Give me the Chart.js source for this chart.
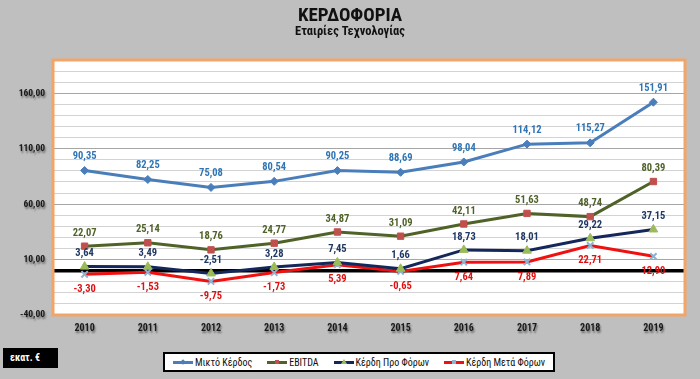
<!DOCTYPE html>
<html>
<head>
<meta charset="utf-8">
<script src="https://cdn.jsdelivr.net/npm/chart.js@4.4.1/dist/chart.umd.min.js"></script>
<style>
  html,body{margin:0;padding:0;background:#BFBFBF;}
  #wrap{position:relative;width:700px;height:379px;overflow:hidden;background:#BFBFBF;
        font-family:"Liberation Sans Narrow","Roboto Condensed",Roboto,"DejaVu Sans Condensed",sans-serif;}
  canvas{position:absolute;left:0;top:0;}
  #title{position:absolute;left:0;width:700px;top:3px;text-align:center;font-weight:bold;font-size:19px;color:#111;}
  #subtitle{position:absolute;left:0;width:700px;top:23px;text-align:center;font-weight:bold;font-size:12.5px;color:#111;}
  #unit{position:absolute;left:3px;top:348px;width:55px;height:20px;background:#000;color:#fff;font-weight:bold;font-size:10px;line-height:20px;text-indent:7px;}
  #legend{position:absolute;left:163px;top:352px;width:388px;height:16px;background:#fff;border:2px solid #000;
          display:flex;align-items:center;justify-content:center;gap:15px;font-size:10px;color:#111;}
  .li{display:flex;align-items:center;white-space:nowrap;}
  .sw{position:relative;width:20px;height:3px;margin-right:2px;}
  .mk{position:absolute;left:50%;top:50%;}
</style>
</head>
<body>
<div id="wrap">
  <canvas id="c" width="700" height="379"></canvas>
  <div id="title">ΚΕΡΔΟΦΟΡΙΑ</div>
  <div id="subtitle">Εταιρίες Τεχνολογίας</div>
  <div id="unit">εκατ. €</div>
  <div id="legend"></div>
</div>
<script>
// ---- data ----
const categories = ['2010','2011','2012','2013','2014','2015','2016','2017','2018','2019'];
const seriesNames = ['Μικτό Κέρδος','EBITDA','Κέρδη Προ Φόρων','Κέρδη Μετά Φόρων'];
const grossProfit = [90.35, 82.25, 75.08, 80.54, 90.25, 88.69, 98.04, 114.12, 115.27, 151.91];
const ebitda      = [22.07, 25.14, 18.76, 24.77, 34.87, 31.09, 42.11, 51.63, 48.74, 80.39];
const preTax      = [3.64, 3.49, -2.51, 3.28, 7.45, 1.66, 18.73, 18.01, 29.22, 37.15];
const afterTax    = [-3.30, -1.53, -9.75, -1.73, 5.39, -0.65, 7.64, 7.89, 22.71, 12.90];
const yMin = -40, yMax = 190, yMinorStep = 10, yMajorStep = 50;

const fmt = v => v.toFixed(2).replace('.', ',');
const FONT = '"Liberation Sans Narrow","Roboto Condensed",Roboto,sans-serif';

const styles = [
  {line:'#4A7EBB', marker:'#4A7EBB', style:'rectRot', r:4, label:'#2E75B6', pos:'above', off:14},
  {line:'#4F6228', marker:'#C0504D', style:'rect', r:4.5, label:'#4F6228', pos:'above', off:13},
  {line:'#14275A', marker:'#9BBB59', style:'triangle', r:5, label:'#1F3864', pos:'above', off:13},
  {line:'#F01010', marker:'#8CB4D2', style:'crossRot', r:4.5, label:'#E01010', pos:'below', off:15}
];
const allData = [grossProfit, ebitda, preTax, afterTax];

const datasets = allData.map((d, i) => ({
  label: seriesNames[i],
  data: d,
  borderColor: styles[i].line,
  backgroundColor: styles[i].marker,
  pointBackgroundColor: styles[i].marker,
  pointBorderColor: styles[i].marker,
  pointBorderWidth: styles[i].style === 'crossRot' ? 2 : 1,
  pointStyle: styles[i].style,
  pointRadius: styles[i].r,
  borderWidth: 3,
  tension: 0,
  fill: false
}));

const bgPlugin = {
  id: 'bg',
  beforeDraw(chart) {
    const {ctx, chartArea: a} = chart;
    ctx.save();
    ctx.fillStyle = '#FFFFFF';
    ctx.fillRect(a.left, a.top, a.right - a.left, a.bottom - a.top);
    ctx.restore();
    ['x','y'].forEach(id => {
      const s = chart.scales[id];
      if (s && !s._shadowWrapped) {
        const orig = s.drawLabels.bind(s);
        s.drawLabels = function(area) {
          ctx.save();
          ctx.shadowColor = 'rgba(0,0,0,0.45)';
          ctx.shadowOffsetX = 1; ctx.shadowOffsetY = 2; ctx.shadowBlur = 2;
          orig(area);
          ctx.restore();
        };
        s._shadowWrapped = true;
      }
    });
  },
  afterDraw(chart) {
    const {ctx, chartArea: a} = chart;
    ctx.save();
    ctx.strokeStyle = '#F2A566';
    ctx.lineWidth = 3;
    ctx.strokeRect(a.left, a.top, a.right - a.left, a.bottom - a.top);
    ctx.restore();
  }
};

const labelPlugin = {
  id: 'vlabels',
  afterDatasetsDraw(chart) {
    const ctx = chart.ctx;
    ctx.save();
    ctx.font = 'bold 10.5px ' + FONT;
    ctx.textAlign = 'center';
    ctx.textBaseline = 'middle';
    chart.data.datasets.forEach((ds, i) => {
      const meta = chart.getDatasetMeta(i);
      const st = styles[i];
      ctx.fillStyle = st.label;
      meta.data.forEach((pt, j) => {
        const y = st.pos === 'above' ? pt.y - st.off : pt.y + st.off;
        ctx.fillText(fmt(ds.data[j]), pt.x, y);
      });
    });
    ctx.restore();
  }
};

new Chart(document.getElementById('c'), {
  type: 'line',
  data: { labels: categories, datasets },
  options: {
    responsive: false,
    animation: false,
    layout: { padding: { left: 0, right: 15, top: 60, bottom: 40 } },
    plugins: { legend: { display: false }, title: { display: false }, tooltip: { enabled: false } },
    scales: {
      x: {
        offset: true,
        grid: { display: false, drawTicks: false },
        border: { display: false },
        ticks: { color: '#1A1A1A', font: { family: FONT, size: 10, weight: 'bold' }, padding: 7, maxRotation: 0 },
        afterFit(s) { s.height = 24; }
      },
      y: {
        min: yMin, max: yMax,
        border: { display: false },
        grid: {
          drawTicks: false,
          color: c => c.tick.value === 0 ? '#000000' : ((c.tick.value - yMin) % yMajorStep === 0 ? '#A6A6A6' : '#D3D3D3'),
          lineWidth: c => c.tick.value === 0 ? 3.5 : 1
        },
        ticks: {
          stepSize: yMinorStep,
          autoSkip: false,
          padding: 8,
          color: '#1A1A1A',
          font: { family: FONT, size: 9.5, weight: 'bold' },
          callback: v => ((v - yMin) % yMajorStep === 0 && v !== yMax) ? fmt(v) : ''
        },
        afterFit(s) { s.width = 53; }
      }
    }
  },
  plugins: [bgPlugin, labelPlugin]
});

// legend (HTML, built from series)
const lg = document.getElementById('legend');
seriesNames.forEach((name, i) => {
  const st = styles[i];
  const item = document.createElement('div'); item.className = 'li';
  const sw = document.createElement('div'); sw.className = 'sw'; sw.style.background = st.line;
  const mk = document.createElement('div'); mk.className = 'mk';
  if (st.style === 'rectRot') { mk.style.cssText += 'width:4px;height:4px;margin:-2px 0 0 -2px;transform:rotate(45deg);background:' + st.marker; }
  else if (st.style === 'rect') { mk.style.cssText += 'width:4px;height:4px;margin:-2px 0 0 -2px;background:' + st.marker; }
  else if (st.style === 'triangle') { mk.style.cssText += 'width:0;height:0;margin:-3px 0 0 -3px;border-left:3px solid transparent;border-right:3px solid transparent;border-bottom:5px solid ' + st.marker; }
  else { mk.style.cssText += 'width:4px;height:4px;margin:-2px 0 0 -2px;background:' + st.marker; }
  sw.appendChild(mk);
  const tx = document.createElement('span'); tx.textContent = name;
  item.appendChild(sw); item.appendChild(tx);
  lg.appendChild(item);
});
</script>
</body>
</html>
